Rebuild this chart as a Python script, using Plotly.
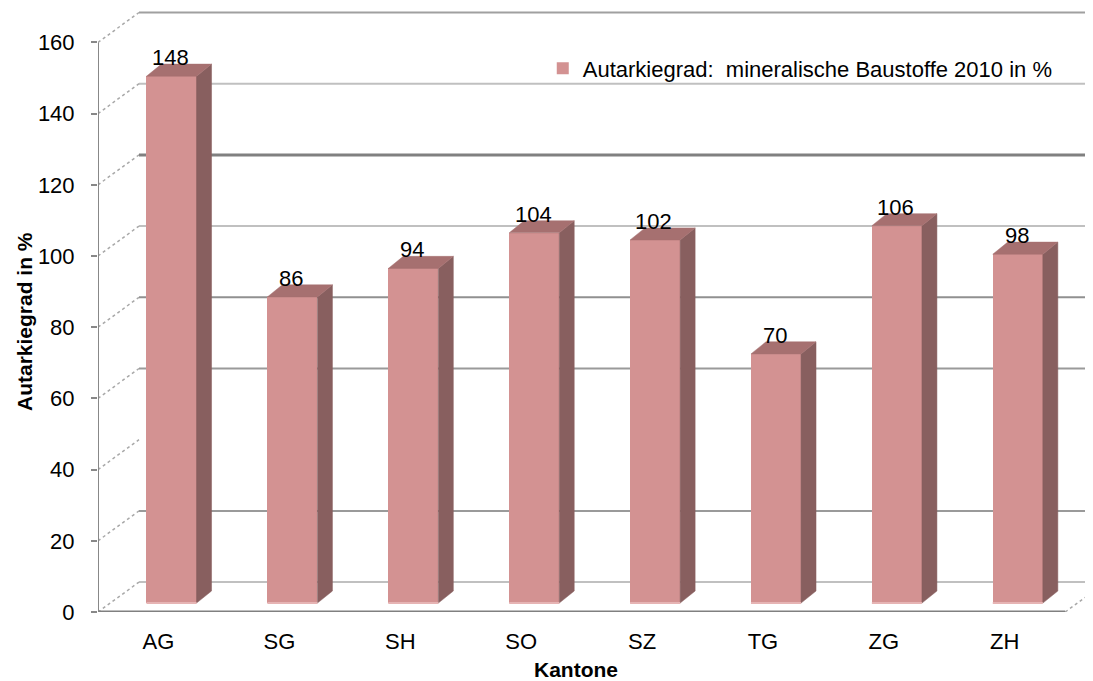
import plotly.graph_objects as go

# ---- data ----
kantone = ["AG", "SG", "SH", "SO", "SZ", "TG", "ZG", "ZH"]
autarkiegrad = [148, 86, 94, 104, 102, 70, 106, 98]
y_ticks = [0, 20, 40, 60, 80, 100, 120, 140, 160]
series_name = "Autarkiegrad:  mineralische Baustoffe 2010 in %"

# ---- pseudo-3D geometry (in axis units) ----
WALL_DX, WALL_DY = 0.339, 8.4      # back wall offset
BAR_CX, BAR_BASE = 0.108, 2.5      # bar front plane offset
BAR_W = 0.414
SIDE_DX, SIDE_DY = 0.124, 3.4

FRONT = "#D39292"
SIDE = "#885F5F"
TOP = "#A67070"

grid_styles = {0: ("#c0c0c0", 2), 20: ("#9a9a9a", 2), 40: (None, 0), 60: ("#9a9a9a", 2),
               80: ("#909090", 2), 100: ("#c0c0c0", 2), 120: ("#808080", 3),
               140: ("#c0c0c0", 2), 160: ("#a0a0a0", 2)}

FONT = "Liberation Sans, Arial, sans-serif"
x_left = -0.5
x_right = len(kantone) - 0.5
PX_PER_CAT = 120.9
PX_PER_UNIT = 3.56
PLOT_W = 995
PLOT_H = 604

fig = go.Figure()

# front faces of bars
fig.add_trace(go.Bar(
    x=[i + BAR_CX for i in range(len(kantone))], y=autarkiegrad, base=BAR_BASE,
    width=BAR_W, marker=dict(color=FRONT, line=dict(width=0)),
    name=series_name, showlegend=True, hoverinfo="skip"))

# side faces
sx, sy = [], []
for i, v in enumerate(autarkiegrad):
    xr = i + BAR_CX + BAR_W / 2
    sx += [xr, xr + SIDE_DX, xr + SIDE_DX, xr, xr, None]
    sy += [BAR_BASE, BAR_BASE + SIDE_DY, BAR_BASE + v + SIDE_DY, BAR_BASE + v, BAR_BASE, None]
fig.add_trace(go.Scatter(x=sx, y=sy, mode="lines", fill="toself", fillcolor=SIDE,
                         line=dict(width=0.5, color=SIDE), showlegend=False, hoverinfo="skip"))

# top faces
tx, ty = [], []
for i, v in enumerate(autarkiegrad):
    xl = i + BAR_CX - BAR_W / 2
    xr = i + BAR_CX + BAR_W / 2
    top = BAR_BASE + v
    tx += [xl, xl + SIDE_DX, xr + SIDE_DX, xr, xl, None]
    ty += [top, top + SIDE_DY, top + SIDE_DY, top, top, None]
fig.add_trace(go.Scatter(x=tx, y=ty, mode="lines", fill="toself", fillcolor=TOP,
                         line=dict(width=0.5, color=TOP), showlegend=False, hoverinfo="skip"))

# thin light edge at bottom of front faces
bx, by = [], []
for i in range(len(kantone)):
    bx += [i + BAR_CX - BAR_W / 2, i + BAR_CX + BAR_W / 2, None]
    by += [BAR_BASE, BAR_BASE, None]
fig.add_trace(go.Scatter(x=bx, y=by, mode="lines", line=dict(width=2, color="#E6B4B4"),
                         showlegend=False, hoverinfo="skip"))

shapes = []
# back wall gridlines
for v in y_ticks:
    col, w = grid_styles[v]
    if col:
        shapes.append(dict(type="line", layer="below", xref="x", yref="y",
                           x0=x_left + WALL_DX, x1=x_right + WALL_DX + 1,
                           y0=v + WALL_DY, y1=v + WALL_DY, line=dict(color=col, width=w)))
    # left side wall diagonals
    shapes.append(dict(type="line", layer="below", xref="x", yref="y",
                       x0=x_left, x1=x_left + WALL_DX, y0=v, y1=v + WALL_DY,
                       line=dict(color="#a8a8a8", width=1.5, dash="dot")))
# right floor diagonal
shapes.append(dict(type="line", layer="below", xref="x", yref="y",
                   x0=x_right, x1=x_right + WALL_DX, y0=0, y1=WALL_DY,
                   line=dict(color="#a8a8a8", width=1.5, dash="dot")))
# front floor edge
shapes.append(dict(type="line", xref="x", yref="y", x0=x_left, x1=x_right, y0=0, y1=0,
                   line=dict(color="#808080", width=3)))
# front y axis line
shapes.append(dict(type="line", xref="x", yref="y", x0=x_left, x1=x_left, y0=0, y1=max(y_ticks),
                   line=dict(color="#888888", width=2)))

annotations = []
for i, v in enumerate(autarkiegrad):
    annotations.append(dict(x=i + BAR_CX - 0.01, y=BAR_BASE + v + SIDE_DY + 1.8, xref="x", yref="y",
                            text=str(v), showarrow=False, yanchor="middle",
                            font=dict(family=FONT, size=22, color="#000000")))
annotations.append(dict(x=3.45, y=0, xref="x", yref="paper",
                        yshift=-57, text="<b>Kantone</b>", showarrow=False, yanchor="middle",
                        font=dict(family=FONT, size=21, color="#000000")))
annotations.append(dict(x=0, y=0.5, xref="paper", yref="paper", xshift=-74, yshift=-12,
                        xanchor="center", yanchor="middle",
                        text="<b>Autarkiegrad in %</b>", showarrow=False, textangle=-90,
                        font=dict(family=FONT, size=21, color="#000000")))

fig.update_layout(
    width=1085, height=673,
    margin=dict(l=90, r=0, t=0, b=69),
    paper_bgcolor="white", plot_bgcolor="white",
    font=dict(family=FONT, size=22, color="#000000"),
    shapes=shapes, annotations=annotations,
    showlegend=True,
    legend=dict(x=0.447, y=0.9, xanchor="left", yanchor="middle",
                bgcolor="rgba(0,0,0,0)", font=dict(family=FONT, size=22)),
    xaxis=dict(range=[x_left, x_left + PLOT_W / PX_PER_CAT], tickmode="array",
               tickvals=list(range(len(kantone))), ticktext=kantone,
               showgrid=False, zeroline=False, showline=False, ticks="",
               ticklabelstandoff=14, fixedrange=True),
    yaxis=dict(range=[0, PLOT_H / PX_PER_UNIT], tickmode="array", tickvals=y_ticks,
               showgrid=False, zeroline=False, showline=False,
               ticks="outside", ticklen=6, tickwidth=2, tickcolor="#888888",
               ticklabelstandoff=12, fixedrange=True),
    bargap=0,
)

fig.write_html("out.html")
